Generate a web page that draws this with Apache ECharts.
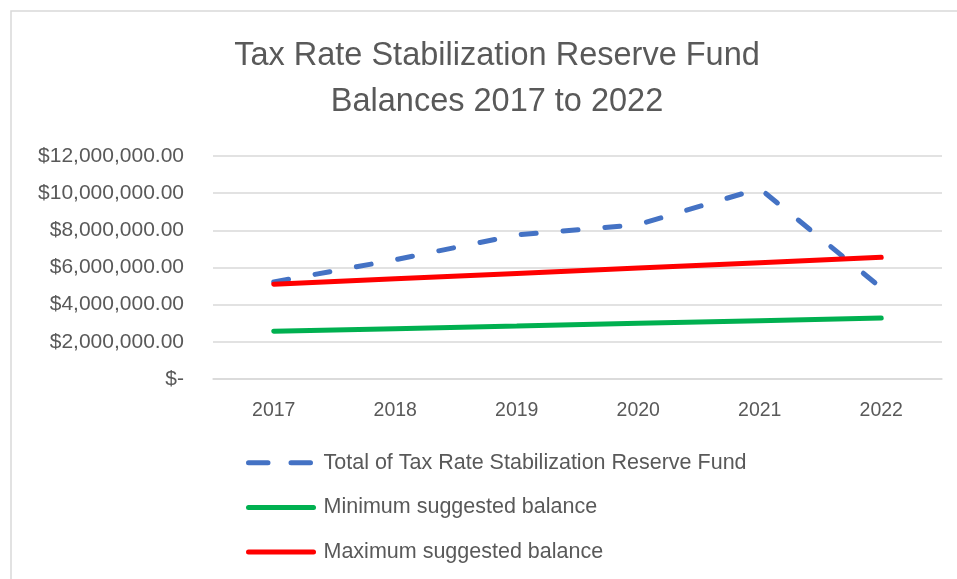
<!DOCTYPE html>
<html>
<head>
<meta charset="utf-8">
<script src="https://cdn.jsdelivr.net/npm/echarts@6/dist/echarts.min.js"></script>
<style>html,body{margin:0;padding:0;background:#fff;}#c{width:957px;height:579px;}</style>
</head>
<body>
<div id="c"></div>
<script>
var categories = ['2017', '2018', '2019', '2020', '2021', '2022'];
var totalFund = [5220000, 6420000, 7750000, 8310000, 10250000, 4900000];
var minBalance = [2570000, 2710000, 2850000, 3000000, 3140000, 3280000];
var maxBalance = [5100000, 5390000, 5680000, 5970000, 6260000, 6550000];
var seriesNames = ['Total of Tax Rate Stabilization Reserve Fund', 'Minimum suggested balance', 'Maximum suggested balance'];
var titleText = 'Tax Rate Stabilization Reserve Fund\nBalances 2017 to 2022';

var font = 'Liberation Sans';
var txt = '#595959';
var colors = ['#4472c4', '#00b050', '#ff0000'];
var chart = echarts.init(document.getElementById('c'), null, {renderer: 'canvas'});
chart.setOption({
  animation: false,
  backgroundColor: '#fff',
  graphic: [{
    type: 'rect', shape: {x: 11, y: 11, width: 960, height: 600},
    style: {fill: 'none', stroke: '#d9d9d9', lineWidth: 1.5}, silent: true
  }],
  title: {
    text: titleText,
    left: 492, top: 28, textAlign: 'center',
    textStyle: {fontFamily: font, fontSize: 32.5, fontWeight: 'normal', color: txt, lineHeight: 46}
  },
  grid: {left: 213, right: 15, top: 156, height: 223, containLabel: false},
  xAxis: {
    type: 'category', data: categories, boundaryGap: true,
    axisLine: {show: true, lineStyle: {color: '#d9d9d9', width: 1.5}},
    axisTick: {show: false},
    axisLabel: {fontFamily: font, fontSize: 19.5, color: txt, margin: 22}
  },
  yAxis: {
    type: 'value', min: 0, max: 12000000, interval: 2000000,
    axisLine: {show: false}, axisTick: {show: false},
    splitLine: {lineStyle: {color: '#d9d9d9', width: 1.5}},
    axisLabel: {
      fontFamily: font, fontSize: 21, color: txt, margin: 29,
      formatter: function (v) {
        if (v === 0) return '$-';
        return '$' + v.toLocaleString('en-US', {minimumFractionDigits: 2, maximumFractionDigits: 2});
      }
    }
  },
  legend: {
    orient: 'vertical', left: 246, top: 450.7, padding: 0,
    itemWidth: 65, itemHeight: 24, itemGap: 20.7,
    itemStyle: {opacity: 0},
    lineStyle: {width: 5, cap: 'round'},
    textStyle: {fontFamily: font, fontSize: 21.5, color: txt, lineHeight: 24, padding: [0, 0, 0, 5]},
    data: [
      {name: seriesNames[0], lineStyle: {width: 5, type: [19.5, 23], cap: 'round', color: colors[0]}},
      {name: seriesNames[1]},
      {name: seriesNames[2]}
    ]
  },
  series: [
    {name: seriesNames[0], type: 'line', data: totalFund, symbol: 'none', z: 3,
     lineStyle: {color: colors[0], width: 5, type: [15, 27], cap: 'round'}, itemStyle: {color: colors[0]}},
    {name: seriesNames[1], type: 'line', data: minBalance, symbol: 'none', z: 2,
     lineStyle: {color: colors[1], width: 5, cap: 'round'}, itemStyle: {color: colors[1]}},
    {name: seriesNames[2], type: 'line', data: maxBalance, symbol: 'none', z: 4,
     lineStyle: {color: colors[2], width: 5, cap: 'round'}, itemStyle: {color: colors[2]}}
  ]
});
</script>
</body>
</html>
